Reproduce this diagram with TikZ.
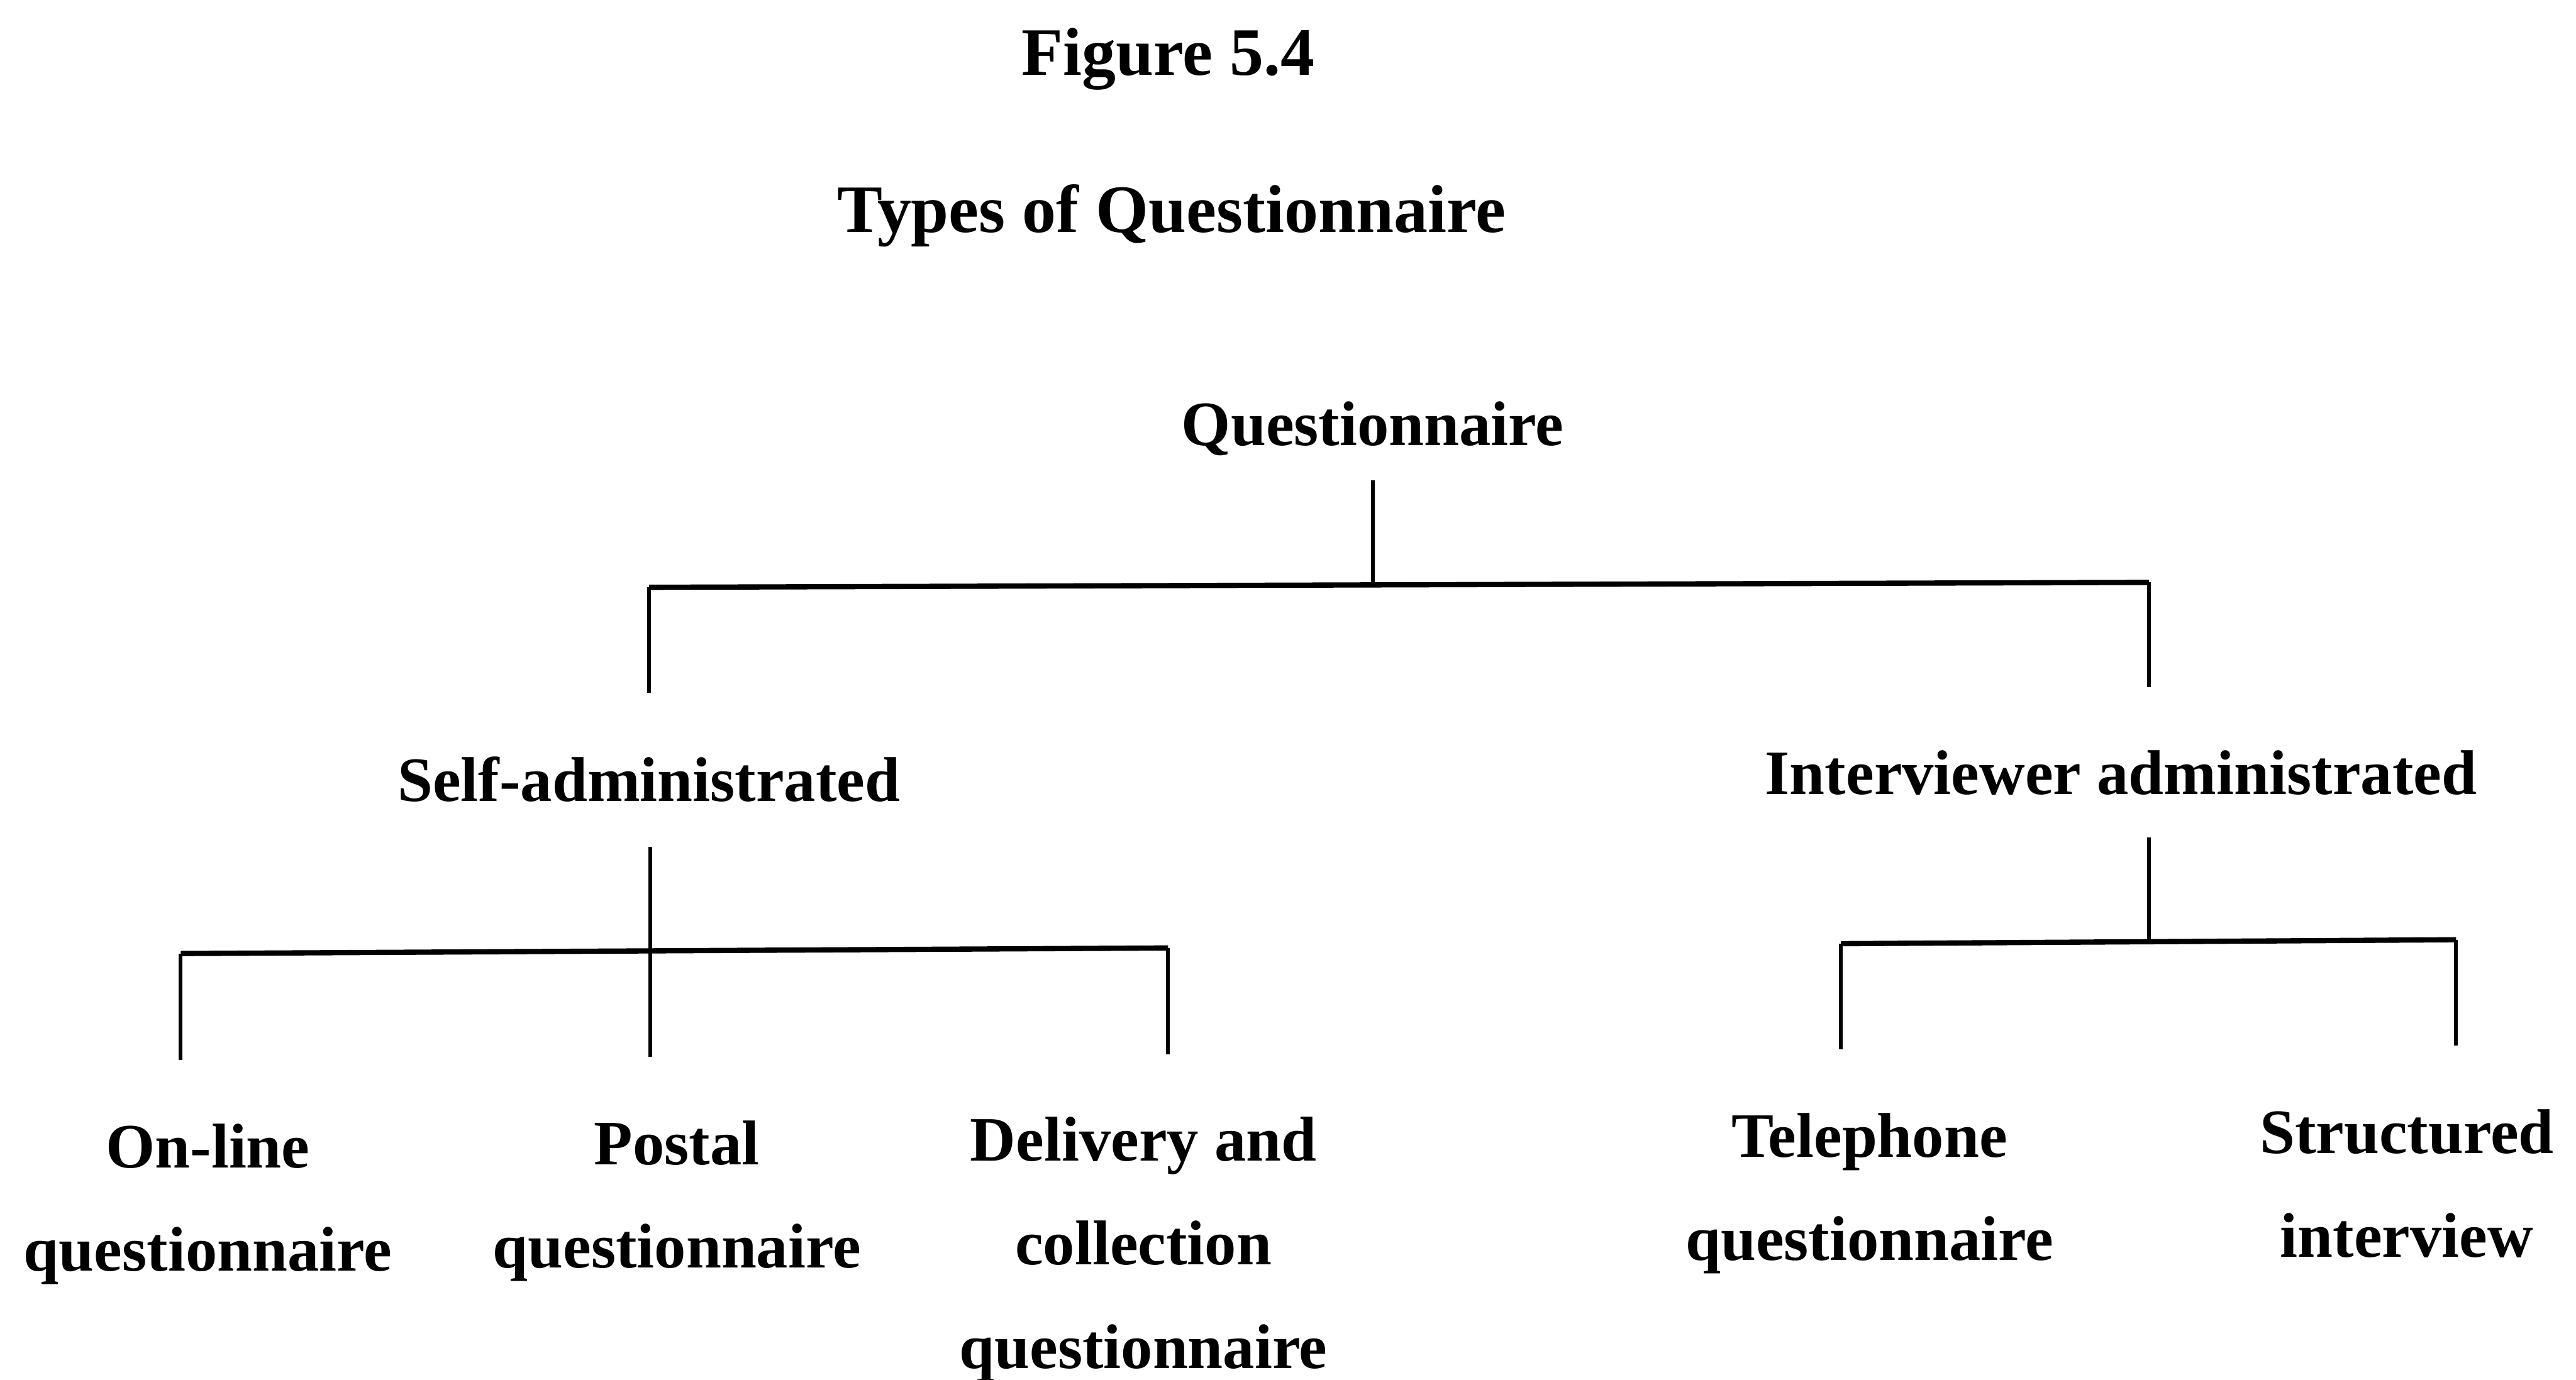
\documentclass[tikz,border=0pt]{standalone}
\usepackage{fontspec}
\setmainfont{Liberation Serif}
\begin{document}
\begin{tikzpicture}[x=0.5pt,y=-0.5pt,
  titletext/.style={inner sep=0pt,anchor=base,font=\fontsize{20.65pt}{24pt}\selectfont\bfseries},
  itemtext/.style={inner sep=0pt,anchor=base,font=\fontsize{19.25pt}{31.5pt}\selectfont\bfseries},
  stem/.style={line width=1.15pt,line cap=butt},
  bar/.style={line width=1.6pt,line cap=butt}]
\useasboundingbox (0,0) rectangle (1568,840);

% headings
\node[titletext] (fig)   at (711,45.9)  {Figure 5.4};
\node[titletext] (title) at (713,141.6) {Types of Questionnaire};

% tree labels
\node[itemtext] (root)  at (835.5,271.3) {Questionnaire};
\node[itemtext] (self)  at (395,487.8)   {Self-administrated};
\node[itemtext] (inter) at (1291,483.8)  {Interviewer administrated};

\node[itemtext] (online)   at (126.5,711) {\begin{tabular}[t]{@{}c@{}}On-line\\questionnaire\end{tabular}};
\node[itemtext] (postal)   at (412,709)   {\begin{tabular}[t]{@{}c@{}}Postal\\questionnaire\end{tabular}};
\node[itemtext] (delivery) at (696,707)   {\begin{tabular}[t]{@{}c@{}}Delivery and\\collection\\questionnaire\end{tabular}};
\node[itemtext] (phone)    at (1138,704.5){\begin{tabular}[t]{@{}c@{}}Telephone\\questionnaire\end{tabular}};
\node[itemtext] (struct)   at (1465,702.4){\begin{tabular}[t]{@{}c@{}}Structured\\interview\end{tabular}};

% junction points of the tree
\coordinate (rootTop)   at (835.5,292.6);
\coordinate (rootJoin)  at (835.5,356.2);
\coordinate (barL)      at (395,357.6);
\coordinate (barR)      at (1308,354.6);
\coordinate (selfIn)    at (395,422);
\coordinate (interIn)   at (1308,418.5);

\coordinate (selfTop)   at (396,515.8);
\coordinate (selfJoin)  at (396,578.6);
\coordinate (sbarL)     at (110,580.6);
\coordinate (sbarR)     at (711,577.2);
\coordinate (onlineIn)  at (110,645.5);
\coordinate (postalIn)  at (396,643.5);
\coordinate (delivIn)   at (711,642);

\coordinate (interTop)  at (1308,510);
\coordinate (interJoin) at (1308,573.4);
\coordinate (ibarL)     at (1120.5,574.6);
\coordinate (ibarR)     at (1495,572.2);
\coordinate (phoneIn)   at (1120.5,639);
\coordinate (structIn)  at (1495,636.5);

% connectors
\draw[stem] (rootTop) -- (rootJoin);
\draw[bar]  (barL) -- (barR);
\draw[stem] (barL) -- (selfIn);
\draw[stem] (barR) -- (interIn);

\draw[stem] (selfTop) -- (postalIn);
\draw[bar]  (sbarL) -- (sbarR);
\draw[stem] (sbarL) -- (onlineIn);
\draw[stem] (sbarR) -- (delivIn);

\draw[stem] (interTop) -- (interJoin);
\draw[bar]  (ibarL) -- (ibarR);
\draw[stem] (ibarL) -- (phoneIn);
\draw[stem] (ibarR) -- (structIn);
\end{tikzpicture}
\end{document}
